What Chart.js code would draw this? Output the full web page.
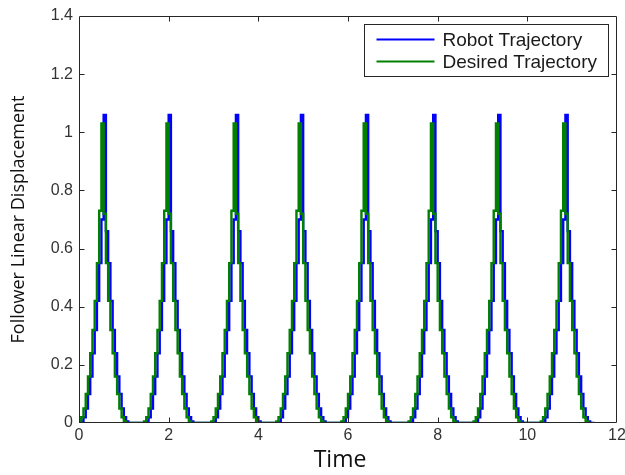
<!DOCTYPE html>
<html>
<head>
<meta charset="utf-8">
<script src="https://cdn.jsdelivr.net/npm/chart.js@4.4.1/dist/chart.umd.min.js"></script>
<style>
  html, body { margin: 0; padding: 0; background: #ffffff; }
  #wrap { width: 625px; height: 475px; }
</style>
</head>
<body>
<div id="wrap"><canvas id="c" width="625" height="475"></canvas></div>
<script>
// ---- data ----
const seriesNames = ['Robot Trajectory', 'Desired Trajectory'];
const xAxisTitle = 'Time';
const yAxisTitle = 'Follower Linear Displacement';
const xTickValues = [0, 2, 4, 6, 8, 10, 12];
const xTickLabels = ['0', '2', '4', '6', '8', '10', '12'];
const yTickValues = [0, 0.2, 0.4, 0.6, 0.8, 1, 1.2, 1.4];
const yTickLabels = ['0', '0.2', '0.4', '0.6', '0.8', '1', '1.2', '1.4'];

const timeLabels = [
  0,0.05,0.1,0.15,0.2,0.25,0.3,0.35,0.4,0.45,0.5,0.55,0.6,0.65,0.7,0.75,0.8,0.85,0.9,0.95,
  1,1.05,1.1,1.15,1.2,1.25,1.3,1.35,1.4,1.45,1.5,1.55,1.6,1.65,1.7,1.75,1.8,1.85,1.9,1.95,
  2,2.05,2.1,2.15,2.2,2.25,2.3,2.35,2.4,2.45,2.5,2.55,2.6,2.65,2.7,2.75,2.8,2.85,2.9,2.95,
  3,3.05,3.1,3.15,3.2,3.25,3.3,3.35,3.4,3.45,3.5,3.55,3.6,3.65,3.7,3.75,3.8,3.85,3.9,3.95,
  4,4.05,4.1,4.15,4.2,4.25,4.3,4.35,4.4,4.45,4.5,4.55,4.6,4.65,4.7,4.75,4.8,4.85,4.9,4.95,
  5,5.05,5.1,5.15,5.2,5.25,5.3,5.35,5.4,5.45,5.5,5.55,5.6,5.65,5.7,5.75,5.8,5.85,5.9,5.95,
  6,6.05,6.1,6.15,6.2,6.25,6.3,6.35,6.4,6.45,6.5,6.55,6.6,6.65,6.7,6.75,6.8,6.85,6.9,6.95,
  7,7.05,7.1,7.15,7.2,7.25,7.3,7.35,7.4,7.45,7.5,7.55,7.6,7.65,7.7,7.75,7.8,7.85,7.9,7.95,
  8,8.05,8.1,8.15,8.2,8.25,8.3,8.35,8.4,8.45,8.5,8.55,8.6,8.65,8.7,8.75,8.8,8.85,8.9,8.95,
  9,9.05,9.1,9.15,9.2,9.25,9.3,9.35,9.4,9.45,9.5,9.55,9.6,9.65,9.7,9.75,9.8,9.85,9.9,9.95,
  10,10.05,10.1,10.15,10.2,10.25,10.3,10.35,10.4,10.45,10.5,10.55,10.6,10.65,10.7,10.75,10.8,10.85,10.9,10.95,
  11,11.05,11.1,11.15,11.2,11.25,11.3,11.35,11.4,11.45,11.5
];

const robotTrajectory = [
  0,
  0.005,0.02,0.05,0.1,0.16,0.24,0.32,0.42,0.55,0.7,1.06,0.66,0.55,0.42,0.32,0.24,0.16,0.1,0.05,0.02,0.005,
  0,0,0,0,0,0,0,0,
  0.005,0.02,0.05,0.1,0.16,0.24,0.32,0.42,0.55,0.7,1.06,0.66,0.55,0.42,0.32,0.24,0.16,0.1,0.05,0.02,0.005,
  0,0,0,0,0,0,0,0,0,
  0.005,0.02,0.05,0.1,0.16,0.24,0.32,0.42,0.55,0.7,1.06,0.66,0.55,0.42,0.32,0.24,0.16,0.1,0.05,0.02,0.005,
  0,0,0,0,0,0,0,0,
  0.005,0.02,0.05,0.1,0.16,0.24,0.32,0.42,0.55,0.7,1.06,0.66,0.55,0.42,0.32,0.24,0.16,0.1,0.05,0.02,0.005,
  0,0,0,0,0,0,0,0,
  0.005,0.02,0.05,0.1,0.16,0.24,0.32,0.42,0.55,0.7,1.06,0.66,0.55,0.42,0.32,0.24,0.16,0.1,0.05,0.02,0.005,
  0,0,0,0,0,0,0,0,0,
  0.005,0.02,0.05,0.1,0.16,0.24,0.32,0.42,0.55,0.7,1.06,0.66,0.55,0.42,0.32,0.24,0.16,0.1,0.05,0.02,0.005,
  0,0,0,0,0,0,0,0,
  0.005,0.02,0.05,0.1,0.16,0.24,0.32,0.42,0.55,0.7,1.06,0.66,0.55,0.42,0.32,0.24,0.16,0.1,0.05,0.02,0.005,
  0,0,0,0,0,0,0,0,0,
  0.005,0.02,0.05,0.1,0.16,0.24,0.32,0.42,0.55,0.7,1.06,0.66,0.55,0.42,0.32,0.24,0.16,0.1,0.05,0.02,0.005,
  0,0,0
];

const desiredTrajectory = [
  0.005,0.02,0.05,0.1,0.16,0.24,0.32,0.42,0.55,0.73,1.03,0.72,0.55,0.42,0.32,0.24,0.16,0.1,0.05,0.02,0.005,
  0,0,0,0,0,0,0,0,
  0.005,0.02,0.05,0.1,0.16,0.24,0.32,0.42,0.55,0.73,1.03,0.72,0.55,0.42,0.32,0.24,0.16,0.1,0.05,0.02,0.005,
  0,0,0,0,0,0,0,0,0,
  0.005,0.02,0.05,0.1,0.16,0.24,0.32,0.42,0.55,0.73,1.03,0.72,0.55,0.42,0.32,0.24,0.16,0.1,0.05,0.02,0.005,
  0,0,0,0,0,0,0,0,
  0.005,0.02,0.05,0.1,0.16,0.24,0.32,0.42,0.55,0.73,1.03,0.72,0.55,0.42,0.32,0.24,0.16,0.1,0.05,0.02,0.005,
  0,0,0,0,0,0,0,0,
  0.005,0.02,0.05,0.1,0.16,0.24,0.32,0.42,0.55,0.73,1.03,0.72,0.55,0.42,0.32,0.24,0.16,0.1,0.05,0.02,0.005,
  0,0,0,0,0,0,0,0,0,
  0.005,0.02,0.05,0.1,0.16,0.24,0.32,0.42,0.55,0.73,1.03,0.72,0.55,0.42,0.32,0.24,0.16,0.1,0.05,0.02,0.005,
  0,0,0,0,0,0,0,0,
  0.005,0.02,0.05,0.1,0.16,0.24,0.32,0.42,0.55,0.73,1.03,0.72,0.55,0.42,0.32,0.24,0.16,0.1,0.05,0.02,0.005,
  0,0,0,0,0,0,0,0,0,
  0.005,0.02,0.05,0.1,0.16,0.24,0.32,0.42,0.55,0.73,1.03,0.72,0.55,0.42,0.32,0.24,0.16,0.1,0.05,0.02,0.005,
  0,0,0
];

// ---- styling / plugins ----
const axisColor = '#262626';
const tickFont = { family: 'Liberation Sans', size: 16 };

const boxAndTicks = {
  id: 'boxAndTicks',
  afterDatasetsDraw(chart) {
    const { ctx, chartArea: a, scales: { x, y } } = chart;
    const L = Math.round(a.left) + 0.5, R = Math.round(a.right) - 0.5;
    const T = Math.round(a.top) + 0.5, B = Math.round(a.bottom) - 0.5;
    const len = 5;
    ctx.save();
    ctx.strokeStyle = axisColor;
    ctx.lineWidth = 1;
    ctx.beginPath();
    ctx.rect(L, T, R - L, B - T);
    x.ticks.forEach(t => {
      const px = Math.round(x.getPixelForValue(t.value)) + 0.5;
      if (px <= L + 1 || px >= R - 1) return;
      ctx.moveTo(px, B); ctx.lineTo(px, B - len);
      ctx.moveTo(px, T); ctx.lineTo(px, T + len);
    });
    y.ticks.forEach(t => {
      const py = Math.round(y.getPixelForValue(t.value)) + 0.5;
      if (py <= T + 1 || py >= B - 1) return;
      ctx.moveTo(L, py); ctx.lineTo(L + len, py);
      ctx.moveTo(R, py); ctx.lineTo(R - len, py);
    });
    ctx.stroke();
    ctx.restore();
  },
  afterDraw(chart) {
    const { ctx, chartArea: a } = chart;
    // x-axis title (slightly left of centre, as in the reference)
    ctx.save();
    ctx.font = '500 23px "Open Sans"';
    ctx.fillStyle = '#111111';
    ctx.textAlign = 'center';
    ctx.textBaseline = 'middle';
    ctx.fillText(xAxisTitle, (a.left + a.right) / 2 - 8, 460);
    ctx.restore();

    // legend
    const bw = 244, bh = 52;
    const bx = Math.round(a.right) - 253 + 0.5;
    const by = Math.round(a.top) + 8 + 0.5;
    ctx.save();
    ctx.fillStyle = '#ffffff';
    ctx.fillRect(bx, by, bw, bh);
    ctx.strokeStyle = axisColor;
    ctx.lineWidth = 1;
    ctx.strokeRect(bx, by, bw, bh);
    ctx.font = '19px "Liberation Sans"';
    ctx.textBaseline = 'middle';
    ctx.textAlign = 'left';
    chart.data.datasets.forEach((ds, i) => {
      const ly = by + 15 + i * 22;
      ctx.strokeStyle = ds.borderColor;
      ctx.lineWidth = 2;
      ctx.beginPath();
      ctx.moveTo(bx + 12, ly);
      ctx.lineTo(bx + 70, ly);
      ctx.stroke();
      ctx.fillStyle = '#1a1a1a';
      ctx.fillText(ds.label, bx + 78, ly + 1);
    });
    ctx.restore();
  }
};

new Chart(document.getElementById('c'), {
  type: 'line',
  data: {
    labels: timeLabels,
    datasets: [
      {
        label: seriesNames[0],
        data: robotTrajectory,
        borderColor: '#0000ff',
        borderWidth: 2.4,
        pointRadius: 0,
        stepped: true,
        fill: false,
        order: 1
      },
      {
        label: seriesNames[1],
        data: desiredTrajectory,
        borderColor: '#008000',
        borderWidth: 2.4,
        pointRadius: 0,
        stepped: true,
        fill: false,
        order: 0
      }
    ]
  },
  options: {
    responsive: false,
    animation: false,
    devicePixelRatio: 1,
    layout: { padding: { top: 16, right: 8, left: 0, bottom: 0 } },
    plugins: {
      legend: { display: false },
      tooltip: { enabled: false },
      title: { display: false }
    },
    scales: {
      x: {
        type: 'linear',
        min: 0,
        max: 12,
        afterBuildTicks(scale) { scale.ticks = xTickValues.map(v => ({ value: v })); },
        afterFit(scale) { scale.height = 52; scale.paddingLeft = 0; scale.paddingRight = 0; },
        grid: { display: false, drawTicks: false },
        border: { display: false },
        ticks: {
          font: tickFont, color: '#333333', padding: 3, maxRotation: 0,
          callback: (v) => { const i = xTickValues.indexOf(v); return i >= 0 ? xTickLabels[i] : ''; }
        },
        title: { display: false }
      },
      y: {
        type: 'linear',
        min: 0,
        max: 1.4,
        afterBuildTicks(scale) { scale.ticks = yTickValues.map(v => ({ value: v })); },
        afterFit(scale) { scale.width = 79; },
        grid: { display: false, drawTicks: false },
        border: { display: false },
        ticks: {
          font: tickFont, color: '#333333', padding: 6,
          callback: (v) => { const i = yTickValues.findIndex(t => Math.abs(t - v) < 1e-9); return i >= 0 ? yTickLabels[i] : ''; }
        },
        title: {
          display: true,
          text: yAxisTitle,
          font: { family: 'Open Sans', size: 18 },
          color: '#111111',
          padding: { top: 8, bottom: 0 }
        }
      }
    }
  },
  plugins: [boxAndTicks]
});
</script>
</body>
</html>
